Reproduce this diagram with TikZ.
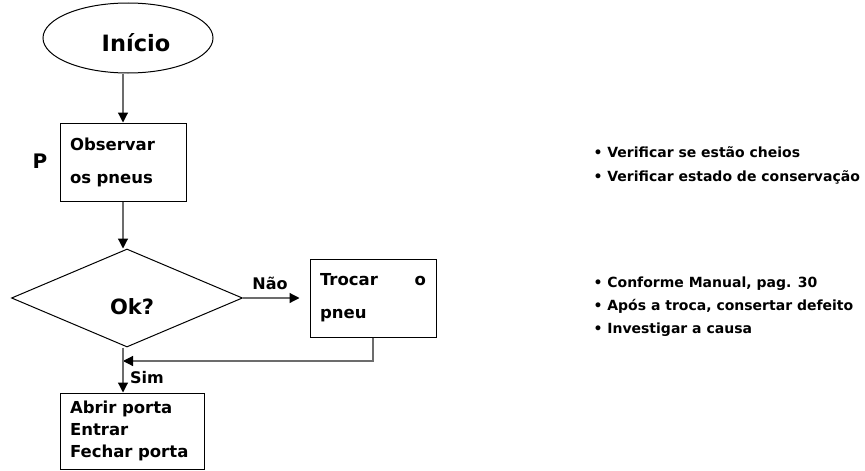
\documentclass[tikz,border=0pt]{standalone}
\usepackage{fontspec}
\setmainfont{DejaVu Sans}
\usetikzlibrary{shapes.geometric,arrows.meta}

\begin{document}
\begin{tikzpicture}[x=1pt,y=-1pt]
    % \draw[step=10pt,help lines] (0,0) grid (865,471);
    \tikzstyle{every node}=[font=\bfseries]
    \tikzstyle{caixa}=[draw=black,line width=1pt,align=left,inner xsep=10pt,text width=106pt,minimum height=78pt,font=\fontsize{16.5}{20}\selectfont\bfseries]
    \tikzstyle{seta}=[draw=gray!85!black,line width=1.2pt,-{Triangle[length=10pt,width=10pt,color=black]}]
    \tikzstyle{nota}=[anchor=west,align=left,font=\fontsize{14}{24}\selectfont\bfseries]
    \useasboundingbox (0,0) rectangle (865,471);

    \node[ellipse,draw,line width=1pt,minimum width=170pt,minimum height=70pt,font=\fontsize{22.5}{26}\selectfont\bfseries] (inicio) at (128,38) {\hspace{16pt}\raisebox{-13pt}[0pt][0pt]{Início}};
    \node[caixa] (observar) at (123,162) {Observar\\[13pt]os pneus};
    \node[font=\fontsize{20}{24}\selectfont\bfseries] (p) at (40,161) {P};
    \node[diamond,draw,line width=1pt,minimum width=231pt,minimum height=98pt,inner sep=0pt,font=\fontsize{21}{25}\selectfont\bfseries] (ok) at (127,298) {\hspace{10pt}\raisebox{-16.5pt}[0pt][0pt]{Ok?}};
    \node[caixa] (trocar) at (373,298) {Trocar\hfill o\\[13pt]pneu};
    \node[caixa,text width=124pt,minimum height=76pt,font=\fontsize{16.5}{22}\selectfont\bfseries] (abrir) at (132,431) {Abrir porta\\Entrar\\Fechar porta};

    \node[font=\fontsize{16}{20}\selectfont\bfseries] (nao) at (270,283) {Não};
    \node[font=\fontsize{16}{20}\selectfont\bfseries] (sim) at (147,378) {Sim};

    \node[nota] (notas1) at (590,165) {• Verificar se estão cheios\\• Verificar estado de conservação};
    \node[nota,font=\fontsize{14}{23}\selectfont\bfseries] (notas2) at (590,307) {• Conforme Manual, pag. 30\\• Após a troca, consertar defeito\\• Investigar a causa};

    \coordinate (volta) at (123,361);
    \draw[seta] (observar.north |- inicio.south) -- (observar.north);
    \draw[seta] (observar.south) -- (observar.south |- ok.north);
    \draw[seta,shorten >=10pt] (ok.east) -- (trocar.west);
    \draw[seta] (trocar.south) |- (volta);
    \draw[seta] (ok.south -| volta) -- (volta |- abrir.north);
\end{tikzpicture}
\end{document}
